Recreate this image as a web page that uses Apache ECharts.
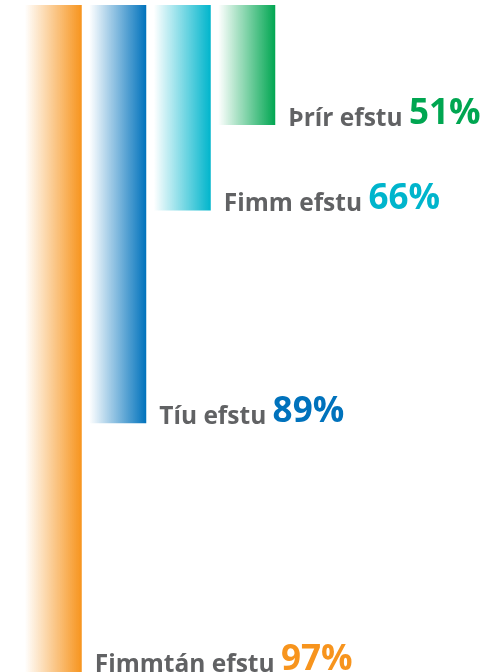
<!DOCTYPE html>
<html>
<head>
<meta charset="utf-8">
<script src="https://cdn.jsdelivr.net/npm/echarts@6/dist/echarts.min.js"></script>
<style>
html, body { margin: 0; padding: 0; background: #fff; }
#myChart { width: 490px; height: 672px; }
</style>
</head>
<body>
<div id="myChart"></div>
<script>
// flokkar og gildi
const categories = ['Fimmtán efstu', 'Tíu efstu', 'Fimm efstu', 'Þrír efstu'];
const percentLabels = ['97%', '89%', '66%', '51%'];
// lengd súlna lesin af myndinni (hæsta súla = 100)
const barLength = [100, 62.7, 30.8, 18];
const colors = ['#f7941d', '#0072bc', '#00b5cc', '#00a651'];

function fade(c) {
    // frá gegnsæju vinstra megin yfir í fullan lit hægra megin
    return new echarts.graphic.LinearGradient(0, 0, 1, 0, [
        { offset: 0, color: c + '00' },
        { offset: 1, color: c }
    ]);
}

let myEchart = echarts.init(document.getElementById('myChart'));
myEchart.setOption({
    animation: false,
    grid: { left: 21, right: 211, top: 5, bottom: 0 },
    xAxis: {
        type: 'category',
        data: categories,
        show: false
    },
    yAxis: {
        type: 'value',
        inverse: true,
        min: 0,
        max: 100,
        show: false
    },
    series: [{
        type: 'bar',
        barWidth: 57,
        data: barLength.map((v, i) => ({
            value: v,
            itemStyle: { color: fade(colors[i]) },
            label: {
                rich: {
                    pct: {
                        fontFamily: 'Open Sans', fontWeight: 'bold', fontSize: 35,
                        lineHeight: 24, verticalAlign: 'bottom', color: colors[i]
                    }
                }
            }
        })),
        label: {
            show: true,
            position: ['100%', '100%'],
            align: 'left',
            verticalAlign: 'bottom',
            offset: [13, 6],
            formatter: p => '{name|' + categories[p.dataIndex] + ' }{pct|' + percentLabels[p.dataIndex] + '}',
            rich: {
                name: {
                    fontFamily: 'Open Sans', fontWeight: 'bold', fontSize: 24.5,
                    lineHeight: 17, verticalAlign: 'bottom', color: '#616264'
                }
            }
        }
    }]
});
window.addEventListener('resize', function () {
    myEchart.resize();
});
</script>
</body>
</html>
